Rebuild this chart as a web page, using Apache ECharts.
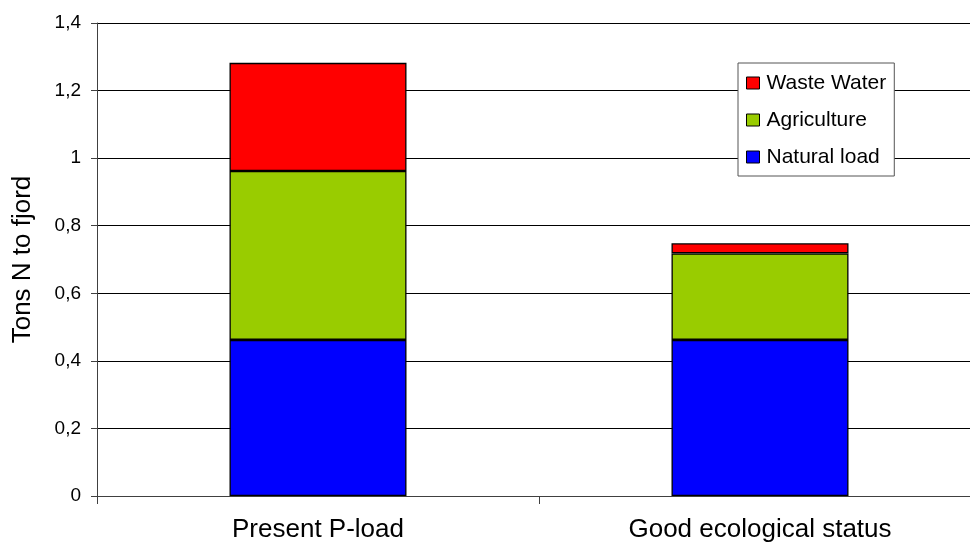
<!DOCTYPE html>
<html>
<head>
<meta charset="utf-8">
<script src="https://cdn.jsdelivr.net/npm/echarts@6/dist/echarts.min.js"></script>
<style>
html,body{margin:0;padding:0;background:#fff;overflow:hidden;width:970px;height:550px;}
#chart{width:990px;height:550px;}
</style>
</head>
<body>
<div id="chart"></div>
<script>
var categories = ['Present P-load', 'Good ecological status'];
var naturalLoad = [0.462, 0.462];
var agriculture = [0.50, 0.256];
var wasteWater = [0.32, 0.03];
var legendOrder = ['Waste Water', 'Agriculture', 'Natural load'];
var yTicks = { min: 0, max: 1.4, interval: 0.2 };

var FONT = '"Liberation Sans", Arial, sans-serif';
var chart = echarts.init(document.getElementById('chart'), null, { renderer: 'canvas' });

function barSeries(name, data, color) {
  return {
    name: name,
    type: 'bar',
    stack: 'total',
    data: data,
    barWidth: 177,
    itemStyle: { color: color, borderColor: '#000', borderWidth: 1.3 },
    emphasis: { disabled: true },
    animation: false
  };
}

chart.setOption({
  animation: false,
  backgroundColor: '#fff',
  textStyle: { fontFamily: FONT },
  grid: { left: 97, right: 9, top: 23, bottom: 54, containLabel: false },
  legend: {
    data: legendOrder,
    orient: 'vertical',
    left: 738,
    top: 63,
    padding: [9, 8, 8, 8],
    itemGap: 15,
    itemWidth: 13,
    itemHeight: 12,
    borderColor: '#555',
    borderWidth: 1,
    backgroundColor: '#fff',
    selectedMode: false,
    icon: 'rect',
    itemStyle: { borderColor: '#000', borderWidth: 1 },
    textStyle: { fontFamily: FONT, fontSize: 21, color: '#000', lineHeight: 22, padding: [0, 0, 0, 2] }
  },
  xAxis: {
    type: 'category',
    data: categories,
    boundaryGap: true,
    axisLine: { show: true, lineStyle: { color: '#404040', width: 1 } },
    axisTick: { show: true, length: 8, lineStyle: { color: '#404040' } },
    axisLabel: { fontFamily: FONT, fontSize: 26, color: '#000', margin: 21 },
    splitLine: { show: false }
  },
  yAxis: {
    type: 'value',
    min: yTicks.min,
    max: yTicks.max,
    interval: yTicks.interval,
    name: 'Tons N to fjord',
    nameLocation: 'middle',
    nameGap: 61,
    nameRotate: 90,
    nameTextStyle: { fontFamily: FONT, fontSize: 26, color: '#000' },
    axisLine: { show: true, lineStyle: { color: '#404040', width: 1 } },
    axisTick: { show: true, length: 6, inside: false, lineStyle: { color: '#404040' } },
    axisLabel: {
      fontFamily: FONT, fontSize: 19, color: '#000', margin: 16,
      formatter: function (v) { return String(Math.round(v * 10) / 10).replace('.', ','); }
    },
    splitLine: { show: true, lineStyle: { color: '#000', width: 1 } }
  },
  series: [
    barSeries('Natural load', naturalLoad, '#0000FF'),
    barSeries('Agriculture', agriculture, '#99CC00'),
    barSeries('Waste Water', wasteWater, '#FF0000')
  ]
});
</script>
</body>
</html>
